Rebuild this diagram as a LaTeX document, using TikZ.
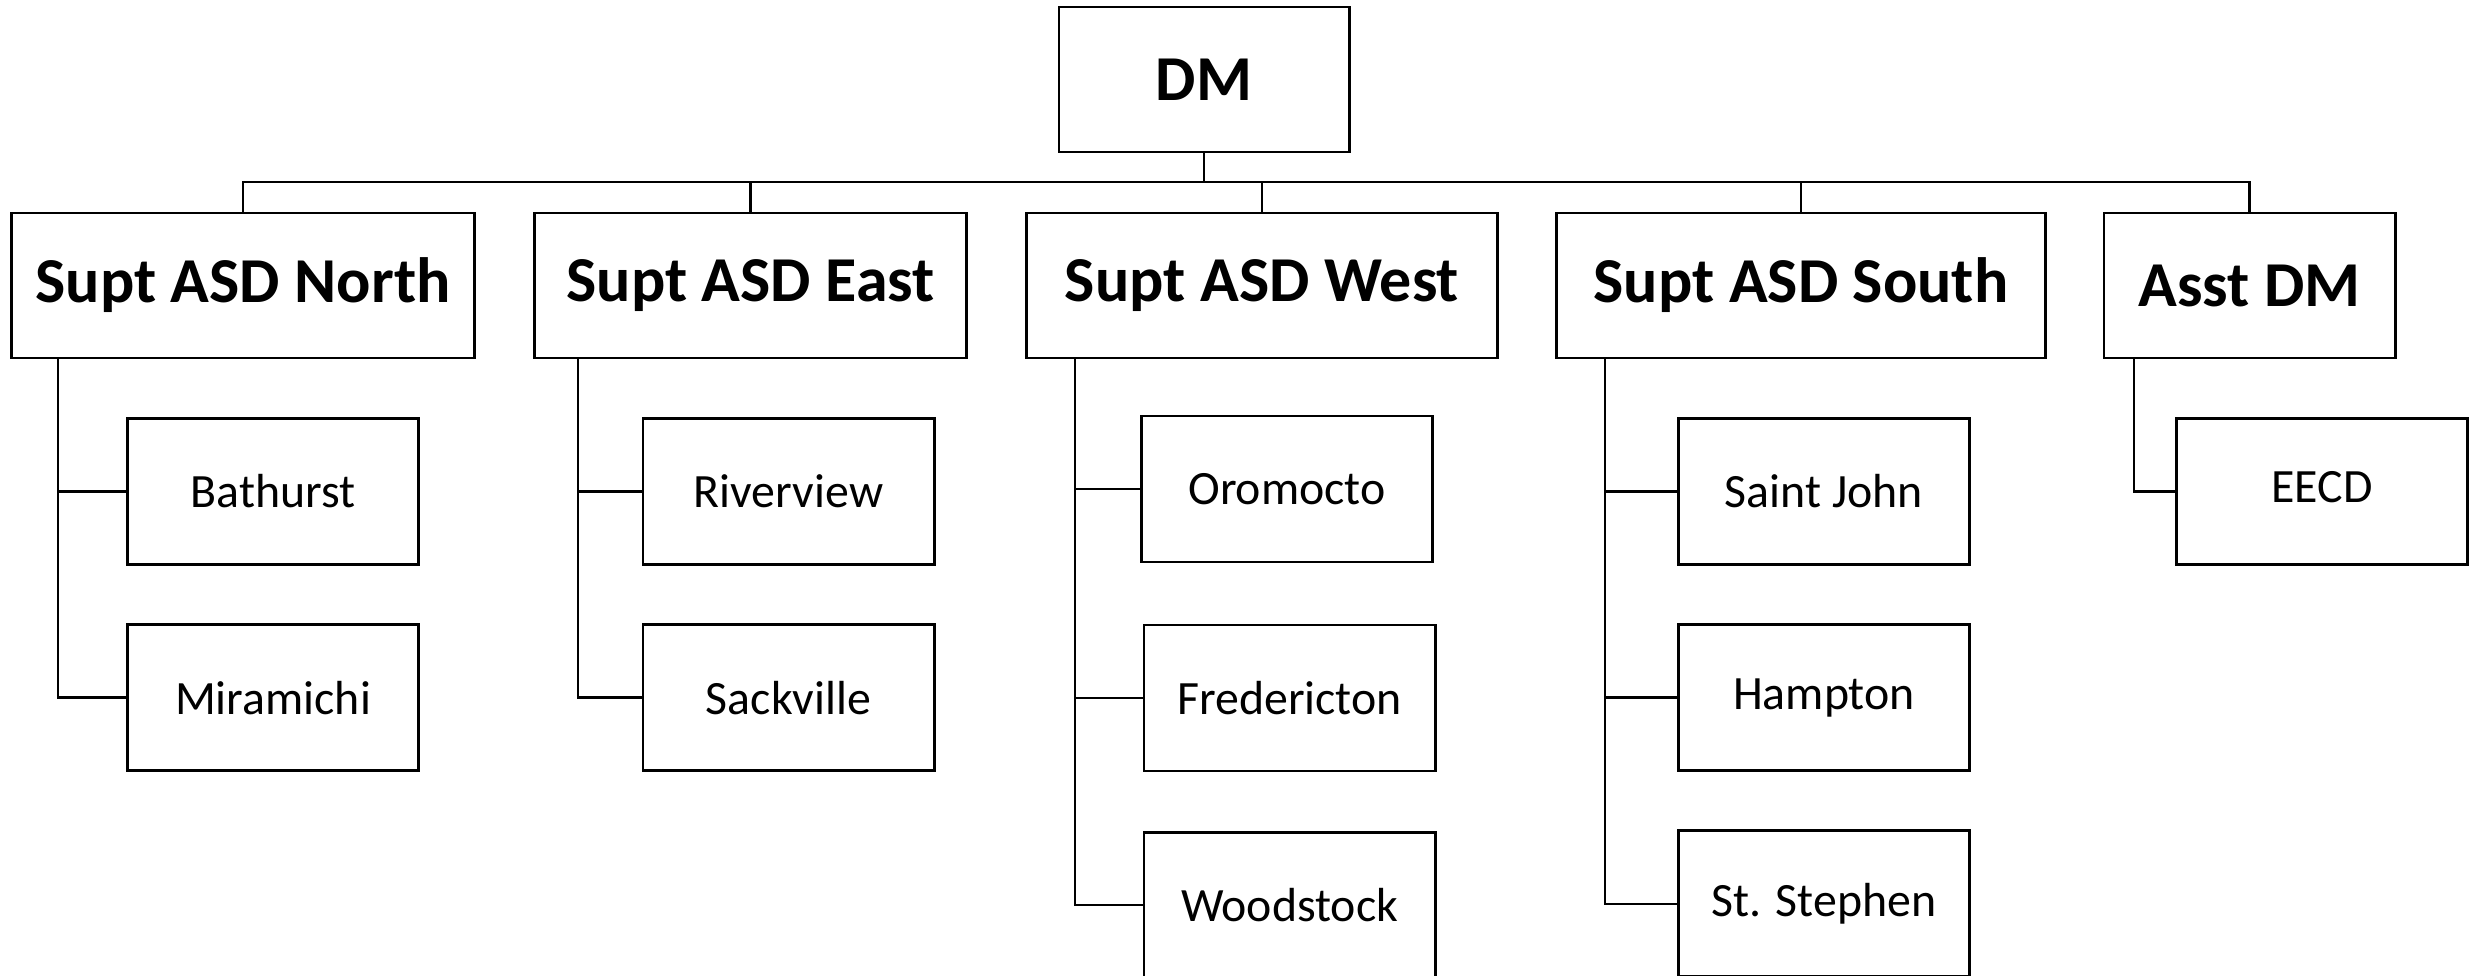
\documentclass[tikz,border=0pt]{standalone}
\usepackage{fontspec}
\setmainfont{Carlito}
\usetikzlibrary{positioning}

\begin{document}
\begin{tikzpicture}[x=0.01cm, y=-0.01cm] %ASD org chart
	\tikzstyle{headbox} = [rectangle, draw, line width=0.8pt, inner sep=0pt, outer sep=0pt, minimum height=1.45cm, text centered, font=\bfseries\fontsize{18.2}{21}\selectfont]
	\tikzstyle{unitbox} = [rectangle, draw, line width=0.8pt, inner sep=0pt, outer sep=0pt, minimum width=2.91cm, minimum height=1.46cm, text centered, font=\fontsize{13.6}{16}\selectfont]
	\useasboundingbox (0,0) rectangle (2475,975);
	\node[headbox, minimum width=2.9cm] (DM) at (1204,79.5) {DM};
	\node[headbox, minimum width=4.62cm] (N) at (243,285.5) {Supt ASD North};
	\node[headbox, minimum width=4.31cm] (E) at (750.5,285.5) {Supt ASD East};
	\node[headbox, minimum width=4.70cm] (W) at (1262,285.5) {Supt ASD West};
	\node[headbox, minimum width=4.88cm] (S) at (1801,285.5) {Supt ASD South};
	\node[headbox, minimum width=2.91cm] (A) at (2249.5,285.5) {Asst DM};
	\node[unitbox] (Na) at (273,491.5) {Bathurst};
	\node[unitbox, below=0.6cm of Na] (Nb) {Miramichi};
	\node[unitbox] (Ea) at (788.5,491.5) {Riverview};
	\node[unitbox, below=0.6cm of Ea] (Eb) {Sackville};
	\node[unitbox] (Wa) at (1287,489) {Oromocto};
	\node[unitbox] (Wb) at (1289.5,698) {Fredericton};
	\node[unitbox, below=0.61cm of Wb] (Wc) {Woodstock};
	\node[unitbox] (Sa) at (1824,491.5) {Saint John};
	\node[unitbox, below=0.6cm of Sa] (Sb) {Hampton};
	\node[unitbox, below=0.6cm of Sb] (Sc) {St. Stephen};
	\node[unitbox] (Aa) at (2322,491.5) {\raisebox{2.3pt}{EECD}\hspace{14pt}};
	\foreach \s in {N,E,W,S,A}
	{
		\draw[line width=0.7pt] (DM.south) -- ++(0,30) -| (\s.north);
	}
	\foreach \p/\c/\d in {N/Na/0.46, N/Nb/0.46, E/Ea/0.43, E/Eb/0.43, W/Wa/0.48, W/Wb/0.48, W/Wc/0.48, S/Sa/0.48, S/Sb/0.48, S/Sc/0.48, A/Aa/0.30}
	{
		\draw[line width=0.7pt] ([xshift=\d cm]\p.south west) |- (\c.west);
	}
\end{tikzpicture}
\end{document}
